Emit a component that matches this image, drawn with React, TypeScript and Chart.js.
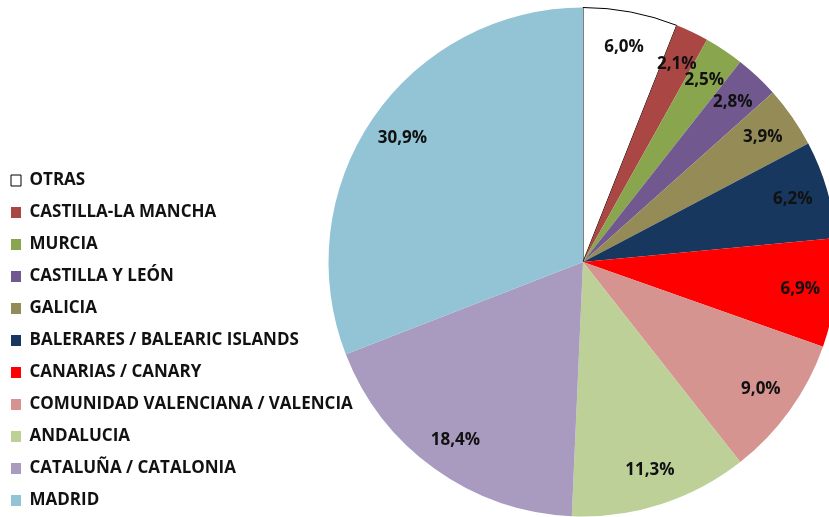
import React, { useEffect, useRef } from "react";
import { Chart, registerables } from "chart.js";

Chart.register(...registerables);

const regions: string[] = [
  "OTRAS",
  "CASTILLA-LA MANCHA",
  "MURCIA",
  "CASTILLA Y LEÓN",
  "GALICIA",
  "BALERARES / BALEARIC ISLANDS",
  "CANARIAS / CANARY",
  "COMUNIDAD VALENCIANA / VALENCIA",
  "ANDALUCIA",
  "CATALUÑA / CATALONIA",
  "MADRID",
];

const shares: number[] = [6.0, 2.1, 2.5, 2.8, 3.9, 6.2, 6.9, 9.0, 11.3, 18.4, 30.9];

const sliceColors: string[] = [
  "#FFFFFF",
  "#AA4643",
  "#89A54E",
  "#71588F",
  "#958B57",
  "#17375E",
  "#FF0000",
  "#D69491",
  "#BCD098",
  "#A99BC0",
  "#93C4D6",
];

const sliceBorderColors: string[] = regions.map((_, i) => (i === 0 ? "#000000" : "rgba(0,0,0,0)"));
const sliceBorderWidths: number[] = regions.map((_, i) => (i === 0 ? 1 : 0));

const FONT = "'Open Sans', 'DejaVu Sans', sans-serif";

const pctLabels = {
  id: "pctLabels",
  afterDatasetsDraw(chart: any) {
    const ctx = chart.ctx;
    const meta = chart.getDatasetMeta(0);
    const data = chart.data.datasets[0].data as number[];
    ctx.save();
    ctx.font = `bold 17px ${FONT}`;
    ctx.fillStyle = "#111111";
    ctx.textAlign = "center";
    ctx.textBaseline = "middle";
    meta.data.forEach((arc: any, i: number) => {
      const { x, y, startAngle, endAngle, outerRadius } = arc.getProps(
        ["x", "y", "startAngle", "endAngle", "outerRadius"],
        true
      );
      const mid = (startAngle + endAngle) / 2;
      const r = outerRadius * 0.86;
      const tx = x + Math.cos(mid) * r;
      const ty = y + Math.sin(mid) * r;
      ctx.fillText(data[i].toFixed(1).replace(".", ",") + "%", tx, ty);
    });
    ctx.restore();
  },
};

// let the legend text run past its layout box (it would otherwise be clipped)
const widenLegend = {
  id: "widenLegend",
  beforeDraw(chart: any) {
    const lg = chart.legend;
    if (lg) {
      lg.right = chart.width;
      lg.width = lg.right - lg.left;
    }
  },
};

export default function App() {
  const ref = useRef<HTMLCanvasElement | null>(null);

  useEffect(() => {
    if (!ref.current) return;
    const chart = new Chart(ref.current, {
      type: "pie",
      data: {
        labels: regions,
        datasets: [
          {
            data: shares,
            backgroundColor: sliceColors,
            borderColor: sliceBorderColors,
            borderWidth: sliceBorderWidths,
          },
        ],
      },
      options: {
        responsive: false,
        animation: false,
        devicePixelRatio: 1,
        layout: { padding: { left: 0, top: 0, right: 0, bottom: 0 } },
        plugins: {
          tooltip: { enabled: false },
          legend: {
            position: "left",
            align: "end",
            maxWidth: 332,
            labels: {
              boxWidth: 10,
              boxHeight: 11,
              padding: 15,
              color: "#111111",
              font: { family: FONT, size: 17, weight: "bold" },
            },
          },
        },
      },
      plugins: [widenLegend, pctLabels],
    });
    return () => chart.destroy();
  }, []);

  return (
    <div
      style={{
        position: "fixed",
        left: 0,
        top: 0,
        width: 829,
        height: 517,
        overflow: "hidden",
        background: "#ffffff",
      }}
    >
      <canvas
        ref={ref}
        width={842}
        height={524}
        style={{ position: "absolute", left: -4, top: 0, width: 842, height: 524 }}
      />
    </div>
  );
}
